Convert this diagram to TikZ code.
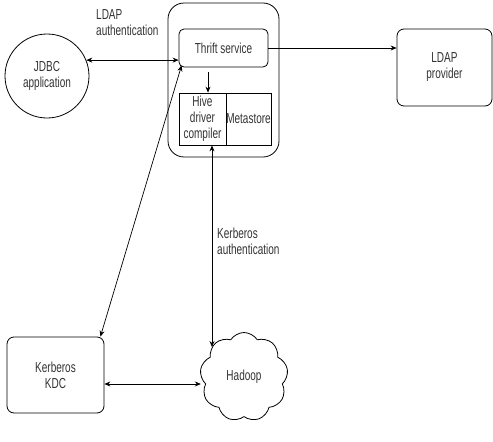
\documentclass[tikz,border=0pt]{standalone}
\usepackage{fontspec}
\setmainfont[FakeStretch=0.69]{Liberation Sans}
\usetikzlibrary{arrows.meta,shapes.symbols}
\begin{document}
\begin{tikzpicture}[
				x=1pt, y=-1pt,
				every node/.style={font=\fontsize{14.5}{16}\selectfont, text=black!80, align=center, inner sep=0},
				box/.style={draw, rounded corners=7pt, line width=0.8pt},
				part/.style={draw, line width=0.8pt},
				link/.style={line width=0.7pt, {Stealth[length=6pt,width=5pt]}-{Stealth[length=6pt,width=5pt]}},
				onelink/.style={line width=0.7pt, -{Stealth[length=6pt,width=5pt]}},
			]
			\useasboundingbox (0,0) rectangle (493,442);
			\node[circle, draw, line width=0.8pt, minimum size=84pt] (jdbc) at (47,76) {JDBC\\application};
			\node[draw, rounded corners=16pt, line width=0.8pt, minimum width=111pt, minimum height=154pt] (server) at (223.5,80) {};
			\node[box, rounded corners=5pt, minimum width=89pt, minimum height=38pt] (thrift) at (223.5,48) {Thrift service};
			\node[part, minimum width=47pt, minimum height=52pt] (hive) at (202.5,119) {Hive\\driver\\compiler};
			\node[part, minimum width=45pt, minimum height=52pt] (meta) at (248.5,119) {Metastore};
			\node[box, minimum width=95pt, minimum height=77pt] (ldap) at (444.5,67.5) {LDAP\\provider};
			\node[box, minimum width=97pt, minimum height=76pt] (kdc) at (55.5,375) {Kerberos\\KDC};
			\node[cloud, draw, line width=0.8pt, cloud puffs=9, cloud puff arc=115, aspect=1, minimum width=88pt, minimum height=89pt] (hadoop) at (244,377) {Hadoop};
			\node[anchor=north west, align=left] (ldaplbl) at (96,9) {LDAP\\authentication};
			\node[anchor=north west, align=left] (kerblbl) at (217,228) {Kerberos\\authentication};
			\coordinate (kerbtop) at ([xshift=9.5pt]hive.south);
			\draw[link] (jdbc.22) -- (jdbc.22 -| thrift.west);
			\draw[onelink] (thrift.east) -- (thrift.east -| ldap.west);
			\draw[onelink, shorten <=5pt] ([xshift=5.5pt]hive.north |- thrift.south) -- ([xshift=5.5pt]hive.north);
			\draw[link] ([xshift=-4pt]kdc.north east) -- ([xshift=3pt, yshift=2pt]thrift.south west);
			\draw[link] (kerbtop) -- ([yshift=30pt]kerbtop |- hadoop.center);
			\draw[link] ([yshift=-9pt]kdc.east) -- ([yshift=-9pt]kdc.east -| hadoop.west);
			\end{tikzpicture}
\end{document}
